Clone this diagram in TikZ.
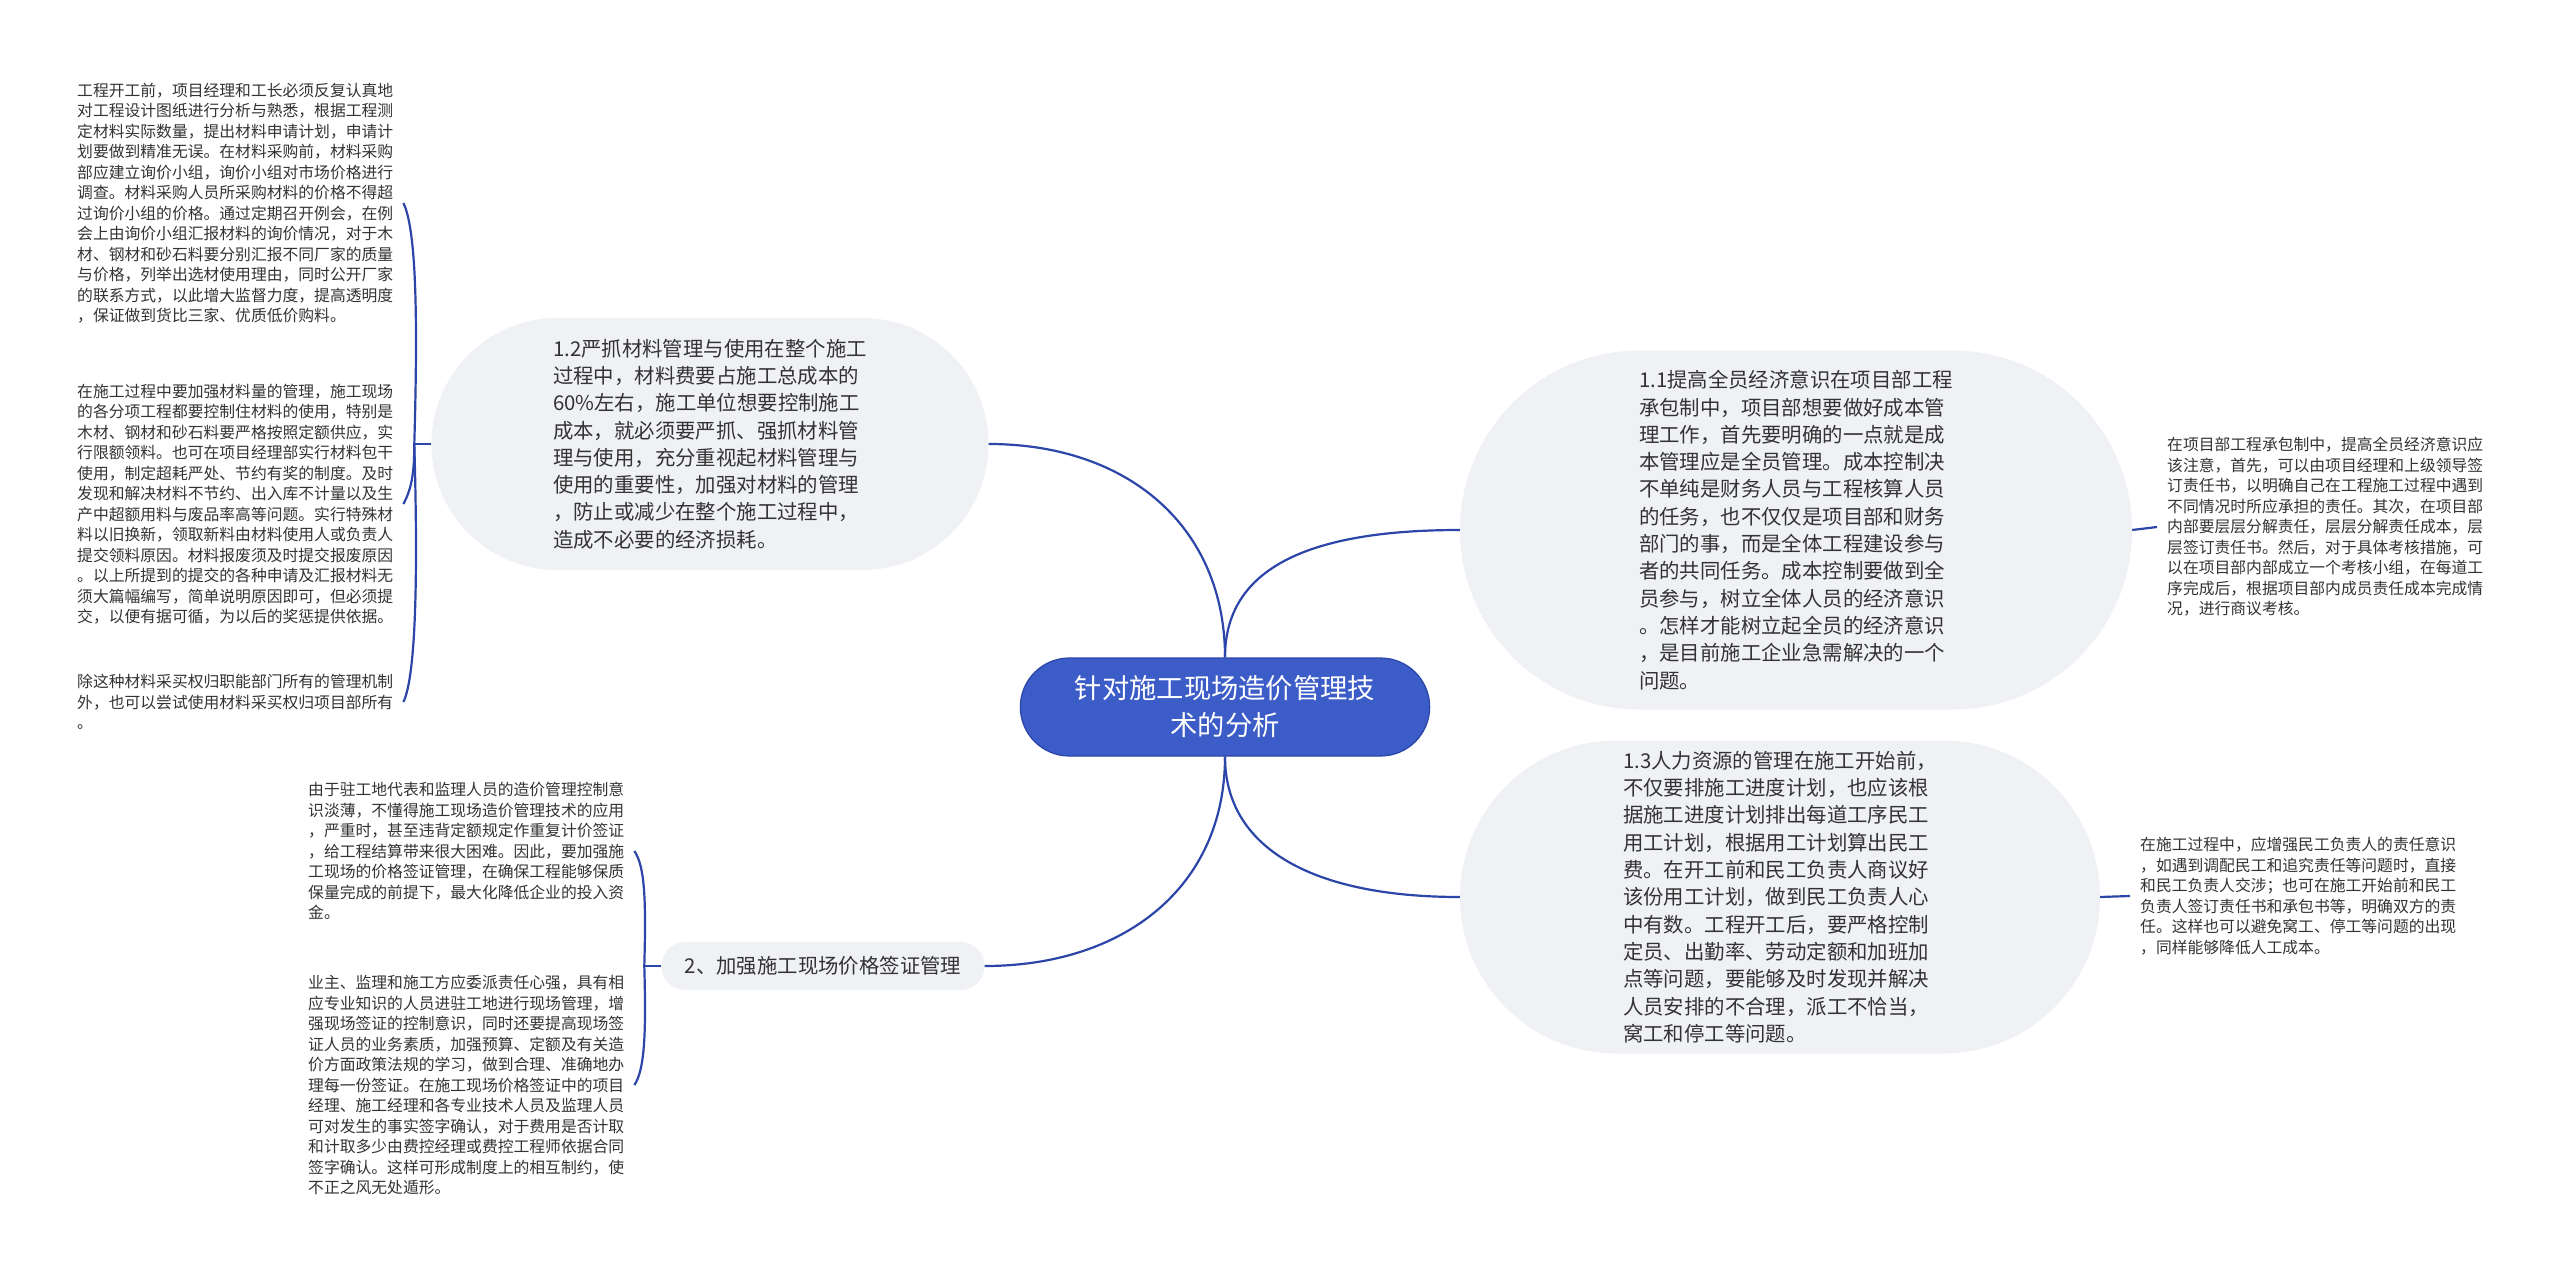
\documentclass[tikz,border=0pt]{standalone}
\usepackage{fontspec}
\setmainfont{Noto Sans CJK SC}
\usetikzlibrary{shapes.misc}

\definecolor{linkblue}{HTML}{2C45A8}
\definecolor{rootblue}{HTML}{3C5CC8}
\definecolor{bubblegray}{HTML}{EFF1F5}
\definecolor{textgray}{HTML}{333333}

\tikzset{
  conn/.style={draw=linkblue, line width=2.2pt},
  rootnode/.style={rounded rectangle, fill=rootblue, draw=linkblue, line width=1.2pt,
    text=white, align=center, font=\fontsize{27.3pt}{37pt}\selectfont},
  topic/.style={rounded rectangle, fill=bubblegray, text=textgray, align=left,
    inner sep=0pt, font=\fontsize{20.4pt}{27.3pt}\selectfont},
  leafnote/.style={text=textgray, align=left, inner xsep=10pt, inner ysep=3pt,
    font=\fontsize{15.8pt}{20.5pt}\selectfont},
}

\begin{document}
\begin{tikzpicture}[x=1pt,y=-1pt]
\fill[white] (0,0) rectangle (2560,1271);
\useasboundingbox (0,0) rectangle (2560,1271);

% centre
\node[rootnode, minimum width=416pt, minimum height=98pt] (root) at (1225,707)
  {针对施工现场造价管理技\\术的分析};

% main topics
\node[topic, minimum width=557pt, minimum height=252pt] (n12) at (710,444)
  {1.2严抓材料管理与使用在整个施工\\过程中，材料费要占施工总成本的\\60\%左右，施工单位想要控制施工\\成本，就必须要严抓、强抓材料管\\理与使用，充分重视起材料管理与\\使用的重要性，加强对材料的管理\\，防止或减少在整个施工过程中，\\造成不必要的经济损耗。};
\node[topic, minimum width=672pt, minimum height=359pt] (n11) at (1796,530)
  {1.1提高全员经济意识在项目部工程\\承包制中，项目部想要做好成本管\\理工作，首先要明确的一点就是成\\本管理应是全员管理。成本控制决\\不单纯是财务人员与工程核算人员\\的任务，也不仅仅是项目部和财务\\部门的事，而是全体工程建设参与\\者的共同任务。成本控制要做到全\\员参与，树立全体人员的经济意识\\。怎样才能树立起全员的经济意识\\，是目前施工企业急需解决的一个\\问题。};
\node[topic, minimum width=640pt, minimum height=313pt] (n13) at (1780,897)
  {1.3人力资源的管理在施工开始前，\\不仅要排施工进度计划，也应该根\\据施工进度计划排出每道工序民工\\用工计划，根据用工计划算出民工\\费。在开工前和民工负责人商议好\\该份用工计划，做到民工负责人心\\中有数。工程开工后，要严格控制\\定员、出勤率、劳动定额和加班加\\点等问题，要能够及时发现并解决\\人员安排的不合理，派工不恰当，\\窝工和停工等问题。};
\node[topic, minimum width=323pt, minimum height=48pt] (n2) at (823,966)
  {2、加强施工现场价格签证管理};

% leaves
\node[leafnote, anchor=west] (la) at (67,203)
  {工程开工前，项目经理和工长必须反复认真地\\对工程设计图纸进行分析与熟悉，根据工程测\\定材料实际数量，提出材料申请计划，申请计\\划要做到精准无误。在材料采购前，材料采购\\部应建立询价小组，询价小组对市场价格进行\\调查。材料采购人员所采购材料的价格不得超\\过询价小组的价格。通过定期召开例会，在例\\会上由询价小组汇报材料的询价情况，对于木\\材、钢材和砂石料要分别汇报不同厂家的质量\\与价格，列举出选材使用理由，同时公开厂家\\的联系方式，以此增大监督力度，提高透明度\\，保证做到货比三家、优质低价购料。};
\node[leafnote, anchor=west] (lb) at (67,504)
  {在施工过程中要加强材料量的管理，施工现场\\的各分项工程都要控制住材料的使用，特别是\\木材、钢材和砂石料要严格按照定额供应，实\\行限额领料。也可在项目经理部实行材料包干\\使用，制定超耗严处、节约有奖的制度。及时\\发现和解决材料不节约、出入库不计量以及生\\产中超额用料与废品率高等问题。实行特殊材\\料以旧换新，领取新料由材料使用人或负责人\\提交领料原因。材料报废须及时提交报废原因\\。以上所提到的提交的各种申请及汇报材料无\\须大篇幅编写，简单说明原因即可，但必须提\\交，以便有据可循，为以后的奖惩提供依据。};
\node[leafnote, anchor=west] (lc) at (67,702)
  {除这种材料采买权归职能部门所有的管理机制\\外，也可以尝试使用材料采买权归项目部所有\\。};
\node[leafnote, anchor=west] (ld) at (298,851)
  {由于驻工地代表和监理人员的造价管理控制意\\识淡薄，不懂得施工现场造价管理技术的应用\\，严重时，甚至违背定额规定作重复计价签证\\，给工程结算带来很大困难。因此，要加强施\\工现场的价格签证管理，在确保工程能够保质\\保量完成的前提下，最大化降低企业的投入资\\金。};
\node[leafnote, anchor=west] (le) at (298,1085)
  {业主、监理和施工方应委派责任心强，具有相\\应专业知识的人员进驻工地进行现场管理，增\\强现场签证的控制意识，同时还要提高现场签\\证人员的业务素质，加强预算、定额及有关造\\价方面政策法规的学习，做到合理、准确地办\\理每一份签证。在施工现场价格签证中的项目\\经理、施工经理和各专业技术人员及监理人员\\可对发生的事实签字确认，对于费用是否计取\\和计取多少由费控经理或费控工程师依据合同\\签字确认。这样可形成制度上的相互制约，使\\不正之风无处遁形。};
\node[leafnote, anchor=west] (lr1) at (2157,527)
  {在项目部工程承包制中，提高全员经济意识应\\该注意，首先，可以由项目经理和上级领导签\\订责任书，以明确自己在工程施工过程中遇到\\不同情况时所应承担的责任。其次，在项目部\\内部要层层分解责任，层层分解责任成本，层\\层签订责任书。然后，对于具体考核措施，可\\以在项目部内部成立一个考核小组，在每道工\\序完成后，根据项目部内成员责任成本完成情\\况，进行商议考核。};
\node[leafnote, anchor=west] (lr3) at (2130,896)
  {在施工过程中，应增强民工负责人的责任意识\\，如遇到调配民工和追究责任等问题时，直接\\和民工负责人交涉；也可在施工开始前和民工\\负责人签订责任书和承包书等，明确双方的责\\任。这样也可以避免窝工、停工等问题的出现\\，同样能够降低人工成本。};

% connectors
\draw[conn] (root.north) .. controls +(0,-130) and +(140,0) .. (n12.east);
\draw[conn] (root.north) .. controls +(0,-90) and +(-150,0) .. (n11.west);
\draw[conn] (root.south) .. controls +(0,130) and +(140,0) .. (n2.east);
\draw[conn] (root.south) .. controls +(0,90) and +(-150,0) .. (n13.west);
\draw[conn] (n11.east) -- (lr1.west);
\draw[conn] (n13.east) -- (lr3.west);
\draw[conn] (n12.west) -- ++(-17,0) coordinate (j12);
\draw[conn] (j12) .. controls +(4,-140) and +(12,25) .. (la.east);
\draw[conn] (j12) .. controls +(0,30) and +(8,-15) .. (lb.east);
\draw[conn] (j12) .. controls +(4,140) and +(12,-25) .. (lc.east);
\draw[conn] (n2.west) -- ++(-17,0) coordinate (j2);
\draw[conn] (j2) .. controls +(2,-70) and +(10,15) .. (ld.east);
\draw[conn] (j2) .. controls +(2,70) and +(10,-15) .. (le.east);
\end{tikzpicture}
\end{document}
